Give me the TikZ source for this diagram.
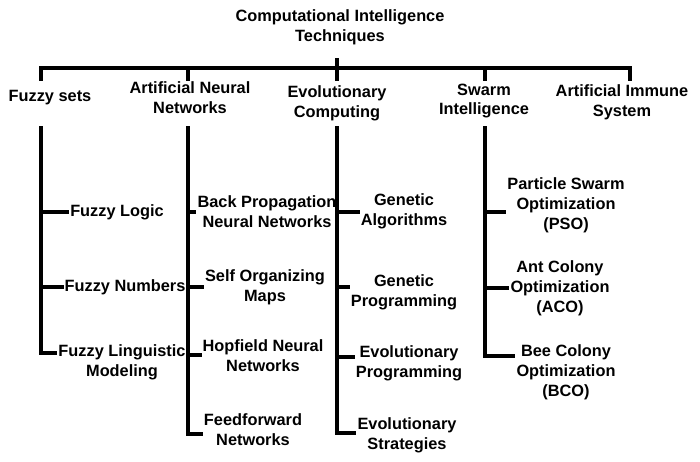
\documentclass[tikz,border=0pt]{standalone}
\usepackage{fontspec}
\setmainfont{Liberation Sans}
\usetikzlibrary{positioning}
\tikzset{
  lbl/.style={font=\bfseries\fontsize{9.3}{11.3}\selectfont, align=center, inner sep=1.5pt},
  br/.style={line width=2.2pt, line cap=rect},
}

\begin{document}
\begin{tikzpicture}[x=0.02cm, y=-0.02cm]
\useasboundingbox (0,0) rectangle (700,461);

% root and the long bar
\node[lbl] (root) at (340,27) {Computational Intelligence\\Techniques};
\coordinate (c1) at (41,68);
\coordinate (c2) at (188,68);
\coordinate (c3) at (337,68);
\coordinate (c4) at (485,68);
\coordinate (c5) at (630,68);
\draw[br] (c1) -- (c5);
\draw[br] (c3) -- ++(0,-8);
\foreach \c in {c1,c2,c3,c4,c5}
  \draw[br] (\c) -- ++(0,11);

% the five families
\node[lbl] (fs)  at (50,98)   {Fuzzy sets};
\node[lbl] (ann) at (190,98)  {Artificial Neural\\Networks};
\node[lbl] (ec)  at (337,103) {Evolutionary\\Computing};
\node[lbl] (si)  at (484,101) {Swarm\\Intelligence};
\node[lbl] (ais) at (622,102) {Artificial Immune\\System};

% members
\node[lbl] (fl)  at (117,212) {Fuzzy Logic};
\node[lbl] (fn)  at (125,287) {Fuzzy Numbers};
\node[lbl] (fm)  at (122,362) {Fuzzy Linguistic\\Modeling};

\node[lbl] (bp)  at (267,212) {Back Propagation\\Neural Networks};
\node[lbl] (so)  at (265,287) {Self Organizing\\Maps};
\node[lbl] (hn)  at (263,356) {Hopfield Neural\\Networks};
\node[lbl] (ff)  at (253,430) {Feedforward\\Networks};

\node[lbl] (ga)  at (404,211) {Genetic\\Algorithms};
\node[lbl] (gp)  at (404,292) {Genetic\\Programming};
\node[lbl] (ep)  at (409,363) {Evolutionary\\Programming};
\node[lbl] (es)  at (407,435) {Evolutionary\\Strategies};

\node[lbl] (pso) at (566,205) {Particle Swarm\\Optimization\\(PSO)};
\node[lbl] (aco) at (560,288) {Ant Colony\\Optimization\\(ACO)};
\node[lbl] (bco) at (566,372) {Bee Colony\\Optimization\\(BCO)};

% spines
\coordinate (top) at (0,128);
\foreach \c/\b in {c1/353, c2/434, c3/433, c4/356}{
  \coordinate (bt) at (0,\b);
  \draw[br] (\c |- top) -- (\c |- bt);
}

% branches
\foreach \c/\n/\y in {c1/fl/212, c1/fn/287, c1/fm/353,
                      c2/bp/212, c2/so/287, c2/hn/355, c2/ff/434,
                      c3/ga/212, c3/gp/287, c3/ep/357, c3/es/433,
                      c4/pso/212, c4/aco/288, c4/bco/356}{
  \coordinate (sy) at (0,\y);
  \draw[br] (\c |- sy) -- (\n.west |- sy);
}

\end{tikzpicture}
\end{document}
